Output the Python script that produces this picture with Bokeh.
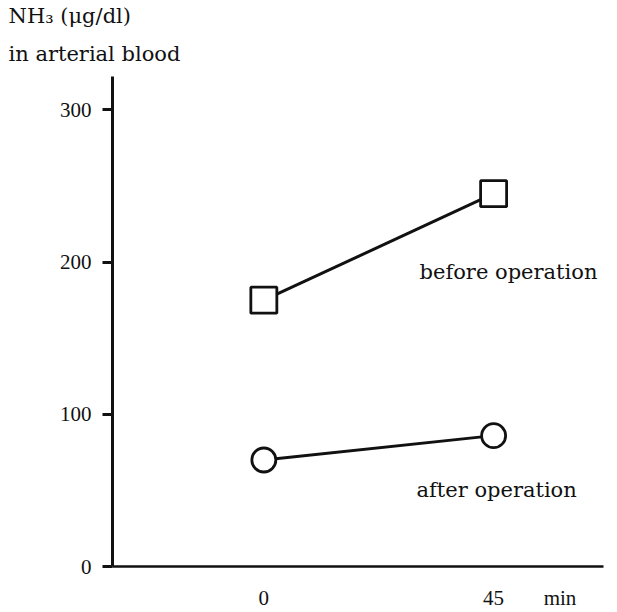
from bokeh.plotting import figure
from bokeh.models import Label, FixedTicker, Title
from bokeh.embed import file_html
from bokeh.resources import INLINE

# ---- data ----
time_min = [0, 45]
before_op = [175, 245]
after_op = [70, 86]
y_ticks = [0, 100, 200, 300]
x_ticks = [0, 45, 58]
x_tick_labels = {0: "0", 45: "45", 58: "min"}
title_lines = ["NH\u2083 (\u03bcg/dl)", "in arterial blood"]
series_names = ["before operation", "after operation"]

INK = "#111111"
WORD_FONT = "DejaVu Serif"
NUM_FONT = "Liberation Serif"

W, H = 617, 612
LEFT = 112

p = figure(width=W, height=H,
           x_range=(-29.64, 66.52), y_range=(0, 322),
           output_backend="svg", toolbar_location=None,
           min_border_left=LEFT, min_border_right=14,
           min_border_top=76, min_border_bottom=46)
p.outline_line_color = None
p.grid.visible = False
p.background_fill_color = "white"
p.border_fill_color = "white"

# y axis
ya = p.yaxis[0]
ya.ticker = FixedTicker(ticks=y_ticks)
ya.minor_tick_line_color = None
ya.major_tick_out = 10
ya.major_tick_in = 0
ya.major_tick_line_width = 3
ya.major_tick_line_color = INK
ya.axis_line_width = 3
ya.axis_line_color = INK
ya.major_label_standoff = 11
ya.major_label_text_font = NUM_FONT
ya.major_label_text_font_size = "21px"
ya.major_label_text_color = INK

# x axis
xa = p.xaxis[0]
xa.ticker = FixedTicker(ticks=x_ticks)
xa.major_label_overrides = x_tick_labels
xa.minor_tick_line_color = None
xa.major_tick_line_color = None
xa.major_tick_out = 0
xa.major_tick_in = 0
xa.axis_line_width = 2.5
xa.axis_line_color = INK
xa.major_label_standoff = 19
xa.major_label_text_font = NUM_FONT
xa.major_label_text_font_size = "21px"
xa.major_label_text_color = INK

# series
p.line(time_min, before_op, line_width=3, line_color=INK)
p.scatter(time_min, before_op, marker="square", size=26,
          fill_color="white", line_color=INK, line_width=2.8)
p.line(time_min, after_op, line_width=3, line_color=INK)
p.scatter(time_min, after_op, marker="circle", size=24,
          fill_color="white", line_color=INK, line_width=2.8)

# series labels
p.add_layout(Label(x=30.5, y=193.3, text=series_names[0], text_font=WORD_FONT,
                   text_font_size="21px", text_color=INK,
                   text_baseline="alphabetic", text_align="left"))
p.add_layout(Label(x=29.9, y=50, text=series_names[1], text_font=WORD_FONT,
                   text_font_size="21px", text_color=INK,
                   text_baseline="alphabetic", text_align="left"))

# axis title (top-left), two stacked titles: first added sits nearest the frame
p.title.visible = False
p.add_layout(Title(text=title_lines[1], align="left", offset=8 - LEFT,
                   standoff=22, text_font=WORD_FONT, text_font_size="21px",
                   text_font_style="normal", text_color=INK), "above")
p.add_layout(Title(text=title_lines[0], align="left", offset=8 - LEFT,
                   standoff=1, text_font=WORD_FONT, text_font_size="21px",
                   text_font_style="normal", text_color=INK), "above")

open("out.html", "w").write(file_html(p, INLINE))
